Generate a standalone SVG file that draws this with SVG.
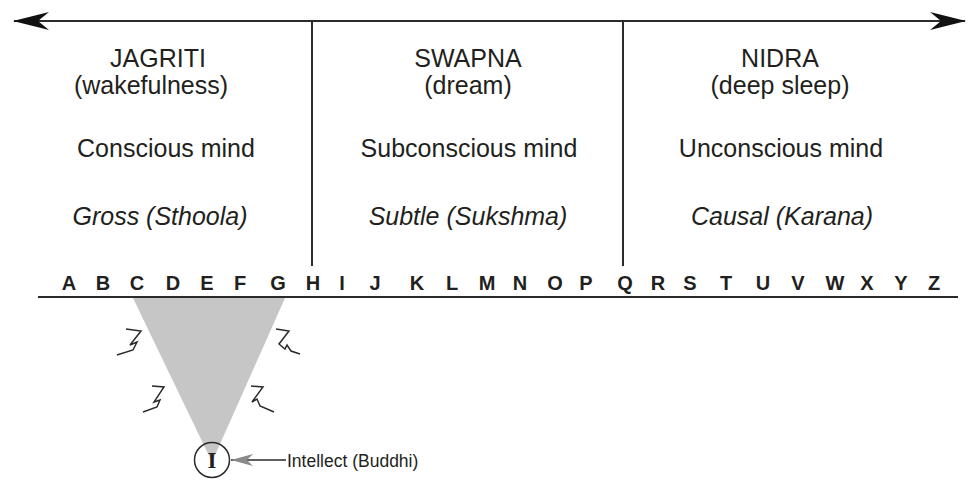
<svg xmlns="http://www.w3.org/2000/svg" width="971" height="483" viewBox="0 0 971 483">
<style>
.t{font-family:"Liberation Sans",Arial,sans-serif;font-size:25px;fill:#231f20;text-anchor:middle}
.i{font-style:italic}
.l{font-family:"Liberation Sans",Arial,sans-serif;font-size:20px;font-weight:bold;fill:#231f20;text-anchor:middle}
.ln{stroke:#2b2b2b;stroke-width:2;fill:none}
.bolt{stroke:#2b2b2b;stroke-width:1.5;fill:none;stroke-linejoin:miter}
</style>
<defs>
<marker id="big" markerUnits="userSpaceOnUse" viewBox="0 0 36 18" refX="35" refY="9" markerWidth="36" markerHeight="18" orient="auto-start-reverse">
<path d="M0,0 L36,9 L0,18 L11,9 Z" fill="#111"/>
</marker>
<marker id="small" markerUnits="userSpaceOnUse" viewBox="0 0 22 12" refX="22" refY="6" markerWidth="22" markerHeight="12" orient="auto">
<path d="M0,0 L22,6 L0,12 L6,6 Z" fill="#8a8a8a"/>
</marker>
</defs>

<g id="connectors">
<line class="ln" x1="14" y1="21" x2="965" y2="21" marker-start="url(#big)" marker-end="url(#big)"/>
<line class="ln" x1="312" y1="21" x2="312" y2="266"/>
<line class="ln" x1="623" y1="21" x2="623" y2="266"/>
<line class="ln" x1="38" y1="297" x2="958" y2="297"/>
<line x1="286" y1="460" x2="231" y2="460" stroke="#2b2b2b" stroke-width="1.5" marker-end="url(#small)"/>
</g>

<g id="beam">
<polygon points="133,298 285,298 212,462" fill="#c6c6c6"/>
<path class="bolt" d="M126,329 L141,331 L130,345 L137,342 L133,350 L117,355"/>
<path class="bolt" d="M276,329 L289,331 L279,344 L285,349 L287,345 L291,351 L300,354"/>
<path class="bolt" d="M152,386 L164,387 L154,402 L160,400 L157,407 L143,412"/>
<path class="bolt" d="M251,386 L263,387 L252,402 L257,399 L260,406 L274,412"/>
</g>

<g id="jagriti">
<text class="t" x="158" y="67">JAGRITI</text>
<text class="t" x="151" y="94">(wakefulness)</text>
<text class="t" x="166" y="157">Conscious mind</text>
<text class="t i" x="160" y="225">Gross (Sthoola)</text>
</g>
<g id="swapna">
<text class="t" x="468" y="67">SWAPNA</text>
<text class="t" x="468" y="94">(dream)</text>
<text class="t" x="469" y="157">Subconscious mind</text>
<text class="t i" x="468" y="225">Subtle (Sukshma)</text>
</g>
<g id="nidra">
<text class="t" x="780" y="67">NIDRA</text>
<text class="t" x="780" y="94">(deep sleep)</text>
<text class="t" x="781" y="157">Unconscious mind</text>
<text class="t i" x="782" y="225">Causal (Karana)</text>
</g>

<g id="alphabet">
<text class="l" x="69" y="290">A</text>
<text class="l" x="103" y="290">B</text>
<text class="l" x="137" y="290">C</text>
<text class="l" x="173" y="290">D</text>
<text class="l" x="207" y="290">E</text>
<text class="l" x="240" y="290">F</text>
<text class="l" x="278" y="290">G</text>
<text class="l" x="313" y="290">H</text>
<text class="l" x="342" y="290">I</text>
<text class="l" x="375" y="290">J</text>
<text class="l" x="417" y="290">K</text>
<text class="l" x="452" y="290">L</text>
<text class="l" x="487" y="290">M</text>
<text class="l" x="520" y="290">N</text>
<text class="l" x="555" y="290">O</text>
<text class="l" x="586" y="290">P</text>
<text class="l" x="625" y="290">Q</text>
<text class="l" x="658" y="290">R</text>
<text class="l" x="690" y="290">S</text>
<text class="l" x="726" y="290">T</text>
<text class="l" x="763" y="290">U</text>
<text class="l" x="798" y="290">V</text>
<text class="l" x="835" y="290">W</text>
<text class="l" x="867" y="290">X</text>
<text class="l" x="901" y="290">Y</text>
<text class="l" x="934" y="290">Z</text>
</g>

<g id="intellect">
<circle cx="212" cy="460" r="17.5" fill="none" stroke="#2b2b2b" stroke-width="1.5"/>
<text x="212" y="468" font-family="'Liberation Serif',serif" font-size="23" font-weight="bold" fill="#231f20" text-anchor="middle">I</text>
<text x="287" y="467" font-family="'Liberation Sans',Arial,sans-serif" font-size="17.5" fill="#231f20">Intellect (Buddhi)</text>
</g>
</svg>
